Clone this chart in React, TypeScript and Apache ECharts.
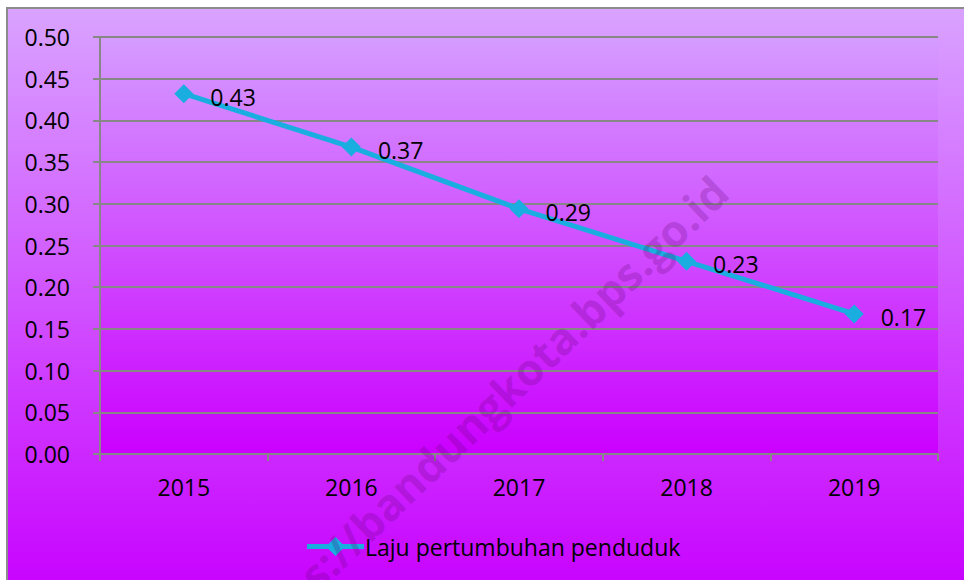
import React, { useEffect, useRef } from "react";
import * as echarts from "echarts";

const categories = ["2015", "2016", "2017", "2018", "2019"];
const growthRate = [0.432, 0.368, 0.294, 0.231, 0.168];
const seriesName = "Laju pertumbuhan penduduk";
const watermark = "https://bandungkota.bps.go.id";

const FONT = "'Open Sans', 'Noto Sans', sans-serif";
const LEGEND_ICON =
  "path://M0,7 L21.5,7 L28.5,0 L35.5,7 L57,7 L57,12 L35.5,12 L28.5,19 L21.5,12 L0,12 Z";

export default function App() {
  const ref = useRef<HTMLDivElement>(null);
  useEffect(() => {
    document.body.style.margin = "0";
    if (!ref.current) return;
    const chart = echarts.init(ref.current, null, { renderer: "svg" });
    const gray = "#878787";
    chart.setOption({
      animation: false,
      backgroundColor: "#ffffff",
      textStyle: { fontFamily: FONT },
      graphic: [
        {
          type: "rect",
          z: -100,
          shape: { x: 7, y: 8, width: 975, height: 590 },
          style: {
            fill: new echarts.graphic.LinearGradient(0, 0, 0, 1, [
              { offset: 0, color: "#D9A3FF" },
              { offset: 1, color: "#C800FF" },
            ]),
            stroke: "#8c8c8c",
            lineWidth: 2,
          },
        },
        {
          type: "text",
          z: 100,
          x: 720,
          y: 184,
          rotation: 0.765,
          style: {
            text: watermark,
            fontSize: 44,
            fontWeight: "bold",
            fontFamily: FONT,
            fill: "rgba(90,0,100,0.22)",
            align: "right",
            verticalAlign: "middle",
          },
        },
      ],
      grid: {
        left: 100,
        right: 26,
        top: 37,
        bottom: 126,
        show: true,
        borderWidth: 0,
        backgroundColor: new echarts.graphic.LinearGradient(0, 0, 0, 1, [
          { offset: 0, color: "#D59CFF" },
          { offset: 1, color: "#CB00FF" },
        ]),
      },
      legend: {
        left: 302,
        top: 530,
        itemWidth: 57,
        itemHeight: 19,
        itemGap: 0,
        icon: LEGEND_ICON,
        itemStyle: { color: "#19AEDF" },
        textStyle: { fontSize: 23, color: "#000", fontFamily: FONT, padding: [0, 0, 0, -4] },
        data: [seriesName],
      },
      xAxis: {
        type: "category",
        data: categories,
        boundaryGap: true,
        axisLine: { show: true, lineStyle: { color: gray, width: 2 } },
        axisTick: { show: true, length: 7, interval: 0, lineStyle: { color: gray, width: 2 } },
        axisLabel: { fontSize: 23, color: "#000", margin: 21, fontFamily: FONT },
        splitLine: { show: false },
      },
      yAxis: {
        type: "value",
        min: 0,
        max: 0.5,
        interval: 0.05,
        axisLine: { show: true, lineStyle: { color: gray, width: 2 } },
        axisTick: { show: true, length: 7, lineStyle: { color: gray, width: 2 } },
        axisLabel: {
          fontSize: 23,
          color: "#000",
          margin: 30,
          fontFamily: FONT,
          formatter: (v: number) => v.toFixed(2),
        },
        splitLine: { show: true, lineStyle: { color: gray, width: 2 } },
      },
      series: [
        {
          name: seriesName,
          type: "line",
          data: growthRate,
          symbol: "diamond",
          symbolSize: 19,
          lineStyle: { color: "#19AEDF", width: 5 },
          itemStyle: { color: "#19AEDF" },
          label: {
            show: true,
            position: "right",
            distance: 17,
            offset: [0, 3],
            fontSize: 23,
            color: "#000",
            fontFamily: FONT,
            formatter: (p: any) => Number(p.value).toFixed(2),
          },
        },
      ],
    });
    return () => chart.dispose();
  }, []);
  return <div ref={ref} style={{ width: 964, height: 580 }} />;
}
